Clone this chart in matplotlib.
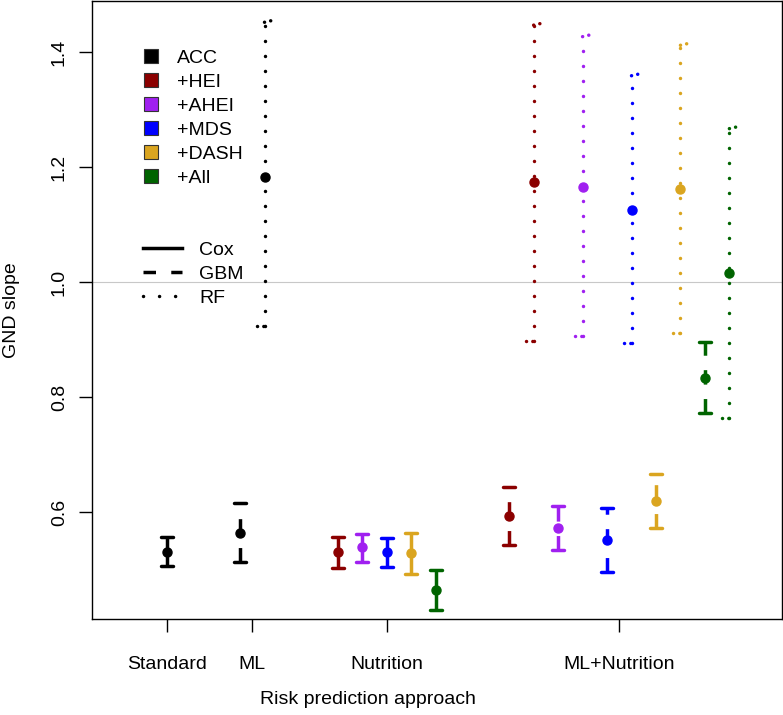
import matplotlib.pyplot as plt
from matplotlib.lines import Line2D

plt.rcParams['font.family'] = ['Liberation Sans', 'DejaVu Sans']
plt.rcParams['lines.scale_dashes'] = False

# score sets and their colours
score_labels = ['ACC', '+HEI', '+AHEI', '+MDS', '+DASH', '+All']
score_colors = ['black', '#8B0000', '#A020F0', '#0000FF', '#DAA520', '#006400']

group_labels = ['Standard', 'ML', 'Nutrition', 'ML+Nutrition']

# Standard: Cox with ACC
std_est = [0.531]
std_lo = [0.506]
std_hi = [0.556]

# ML with ACC: GBM, RF
ml_gbm_est, ml_gbm_lo, ml_gbm_hi = [0.564], [0.513], [0.615]
ml_rf_est, ml_rf_lo, ml_rf_hi = [1.183], [0.923], [1.452]

# Nutrition (Cox): +HEI, +AHEI, +MDS, +DASH, +All
nut_est = [0.530, 0.539, 0.531, 0.529, 0.464]
nut_lo = [0.503, 0.514, 0.505, 0.492, 0.430]
nut_hi = [0.556, 0.562, 0.555, 0.564, 0.500]

# ML+Nutrition, GBM
mlnut_gbm_est = [0.594, 0.573, 0.551, 0.620, 0.834]
mlnut_gbm_lo = [0.543, 0.534, 0.496, 0.573, 0.773]
mlnut_gbm_hi = [0.644, 0.610, 0.607, 0.667, 0.896]

# ML+Nutrition, RF
mlnut_rf_est = [1.174, 1.166, 1.125, 1.162, 1.015]
mlnut_rf_lo = [0.897, 0.906, 0.894, 0.911, 0.763]
mlnut_rf_hi = [1.447, 1.427, 1.359, 1.412, 1.267]

# x positions of the intervals
std_x = [0]
ml_gbm_x = [3]
ml_rf_x = [4]
nut_x = [7, 8, 9, 10, 11]
mlnut_gbm_x = [14, 16, 18, 20, 22]
mlnut_rf_x = [15, 17, 19, 21, 23]
group_ticks = [0, 3.5, 9, 18.5]

LW = 2.5
CAP = 0.25
DASHED = (10.4, 10.4)
DOTTED = (0.05, 10.75)


def draw_interval(ax, x, est, lo, hi, color, model):
    if model == 'cox':
        ax.plot([x, x], [lo, hi], color=color, lw=LW, solid_capstyle='butt')
        for y in (lo, hi):
            ax.plot([x - CAP, x + CAP], [y, y], color=color, lw=LW,
                    solid_capstyle='round')
    elif model == 'gbm':
        ax.plot([x, x], [lo, hi], color=color, lw=LW, dashes=DASHED,
                dash_capstyle='butt')
        for y in (lo, hi):
            ax.plot([x - CAP, x + CAP], [y, y], color=color, lw=LW,
                    solid_capstyle='round')
    else:
        ax.plot([x, x], [lo, hi], color=color, lw=LW, dashes=DOTTED,
                dash_capstyle='round')
        ax.plot([x, x + 0.3], [hi, hi + 0.003], color=color, lw=LW,
                dashes=(0.05, 4.5), dash_capstyle='round')
        ax.plot([x - 0.3, x], [lo, lo], color=color, lw=LW,
                dashes=(0.05, 4.5), dash_capstyle='round')
    ax.plot([x], [est], 'o', color=color, markersize=6.5, zorder=5)


fig = plt.figure(figsize=(7.83, 7.15), dpi=100)
ax = fig.add_axes([92 / 783, 1 - 619 / 715, 690 / 783, 618 / 715])

ax.axhline(1.0, color='#c8c8c8', lw=0.8, zorder=0)

draw_interval(ax, std_x[0], std_est[0], std_lo[0], std_hi[0], score_colors[0], 'cox')
draw_interval(ax, ml_gbm_x[0], ml_gbm_est[0], ml_gbm_lo[0], ml_gbm_hi[0], score_colors[0], 'gbm')
draw_interval(ax, ml_rf_x[0], ml_rf_est[0], ml_rf_lo[0], ml_rf_hi[0], score_colors[0], 'rf')
for i in range(5):
    c = score_colors[i + 1]
    draw_interval(ax, nut_x[i], nut_est[i], nut_lo[i], nut_hi[i], c, 'cox')
    draw_interval(ax, mlnut_gbm_x[i], mlnut_gbm_est[i], mlnut_gbm_lo[i], mlnut_gbm_hi[i], c, 'gbm')
    draw_interval(ax, mlnut_rf_x[i], mlnut_rf_est[i], mlnut_rf_lo[i], mlnut_rf_hi[i], c, 'rf')

ax.set_xlim(-3.05, 25.15)
ax.set_ylim(0.414, 1.489)
ax.set_xticks(group_ticks)
ax.set_xticklabels(group_labels)
ax.set_yticks([0.6, 0.8, 1.0, 1.2, 1.4])
ax.set_yticklabels(['0.6', '0.8', '1.0', '1.2', '1.4'])
ax.tick_params(axis='both', labelsize=14, length=9.4, width=1.0)
ax.tick_params(axis='x', pad=17)
ax.tick_params(axis='y', pad=8)
plt.setp(ax.get_yticklabels(), rotation=90, va='center')
for s in ax.spines.values():
    s.set_linewidth(1.0)

ax.set_ylabel('GND slope', fontsize=14)
ax.yaxis.set_label_coords(-0.104, 0.5)
ax.set_xlabel('Risk prediction approach', fontsize=14)
ax.xaxis.set_label_coords(0.4, -0.117)

# colour legend
color_handles = [Line2D([], [], marker='s', linestyle='none', markersize=10,
                        markerfacecolor=c, markeredgecolor='#333333',
                        markeredgewidth=0.8) for c in score_colors]
leg1 = ax.legend(color_handles, score_labels, loc='upper left',
                 bbox_to_anchor=(0.0714, 0.922), frameon=False, fontsize=14,
                 handlelength=1.0, handletextpad=0.84, labelspacing=0.33,
                 borderpad=0, borderaxespad=0)
ax.add_artist(leg1)

# model legend
model_handles = [Line2D([], [], color='black', lw=LW),
                 Line2D([], [], color='black', lw=LW, dashes=(9, 11)),
                 Line2D([], [], color='black', lw=LW, dashes=(0.05, 11.5),
                        dash_capstyle='round')]
ax.legend(model_handles, ['Cox', 'GBM', 'RF'], loc='upper left',
          bbox_to_anchor=(0.0739, 0.611), frameon=False, fontsize=14,
          handlelength=2.0, handletextpad=0.88, labelspacing=0.33,
          borderpad=0, borderaxespad=0)

fig.savefig('out.png', dpi=100)
